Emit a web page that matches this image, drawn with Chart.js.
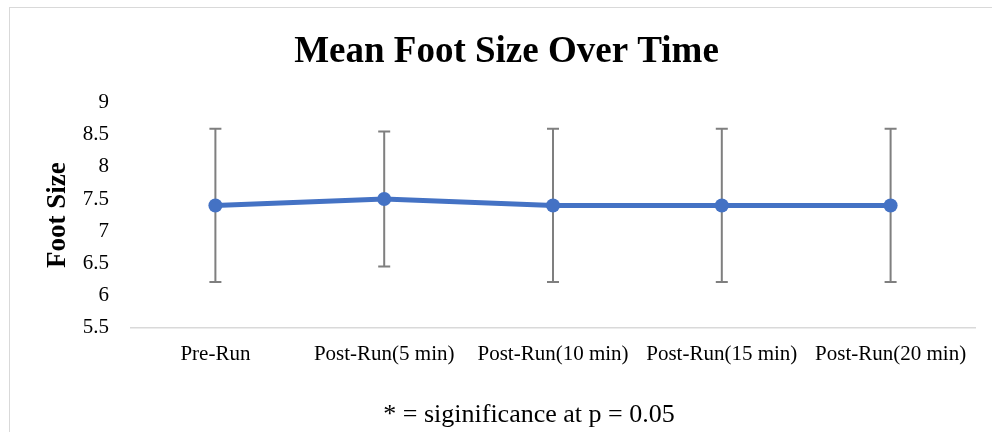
<!DOCTYPE html>
<html>
<head>
<meta charset="utf-8">
<script src="https://cdn.jsdelivr.net/npm/chart.js@4.4.1/dist/chart.umd.min.js"></script>
<style>
  html, body { margin: 0; padding: 0; background: #fff; }
  #wrap { position: relative; width: 992px; height: 432px; overflow: hidden; }
  #frame { position: absolute; left: 9px; top: 7px; width: 1000px; height: 460px; border: 1px solid #d9d9d9; box-sizing: border-box; }
  canvas { position: absolute; left: 0; top: 0; }
</style>
</head>
<body>
<div id="wrap">
  <div id="frame"></div>
  <canvas id="chart" width="992" height="432"></canvas>
</div>
<script>
// Measurement points and mean foot size with standard deviation
const timepoints = ['Pre-Run', 'Post-Run(5 min)', 'Post-Run(10 min)', 'Post-Run(15 min)', 'Post-Run(20 min)'];
const meanFootSize = [7.4, 7.5, 7.4, 7.4, 7.4];
const stdDev = [1.19, 1.05, 1.19, 1.19, 1.19];
const yTicks = [5.5, 6, 6.5, 7, 7.5, 8, 8.5, 9];
const footnote = '* = siginificance at p = 0.05';

const SERIF = "'Liberation Serif', 'Times New Roman', Times, serif";

// Vertical error bars with caps, drawn underneath the line
const errorBars = {
  id: 'errorBars',
  beforeDatasetsDraw(chart) {
    const { ctx, scales: { x, y } } = chart;
    ctx.save();
    ctx.strokeStyle = '#7f7f7f';
    ctx.lineWidth = 2;
    meanFootSize.forEach((m, i) => {
      const px = x.getPixelForValue(i);
      const top = y.getPixelForValue(m + stdDev[i]);
      const bot = y.getPixelForValue(m - stdDev[i]);
      ctx.beginPath();
      ctx.moveTo(px, top); ctx.lineTo(px, bot);
      ctx.moveTo(px - 6, top); ctx.lineTo(px + 6, top);
      ctx.moveTo(px - 6, bot); ctx.lineTo(px + 6, bot);
      ctx.stroke();
    });
    ctx.restore();
  }
};

// Significance note under the axis labels
const noteText = {
  id: 'noteText',
  afterDraw(chart) {
    const { ctx, chartArea } = chart;
    ctx.save();
    ctx.font = '26px ' + SERIF;
    ctx.fillStyle = '#000';
    ctx.textAlign = 'center';
    ctx.textBaseline = 'middle';
    ctx.fillText(footnote, (chartArea.left + chartArea.right) / 2 - 24, 415);
    ctx.restore();
  }
};

new Chart(document.getElementById('chart'), {
  type: 'line',
  data: {
    labels: timepoints,
    datasets: [{
      data: meanFootSize,
      borderColor: '#4472c4',
      backgroundColor: '#4472c4',
      borderWidth: 5,
      pointRadius: 7,
      pointHoverRadius: 7,
      pointBorderWidth: 0,
      tension: 0
    }]
  },
  options: {
    responsive: false,
    animation: false,
    layout: { padding: { left: 38, right: 17, top: 0, bottom: 51 } },
    plugins: {
      legend: { display: false },
      tooltip: { enabled: false },
      title: {
        display: true,
        text: 'Mean Foot Size Over Time',
        color: '#000',
        font: { family: SERIF, size: 37, weight: 'bold' },
        padding: { top: 30, bottom: 28 }
      }
    },
    scales: {
      x: {
        offset: true,
        grid: { display: false, drawTicks: false },
        border: { display: true, color: '#d9d9d9', width: 1.5 },
        ticks: {
          color: '#000',
          font: { family: SERIF, size: 21 },
          padding: 14,
          maxRotation: 0,
          autoSkip: false
        }
      },
      y: {
        min: 5.5,
        max: 9,
        afterBuildTicks(scale) { scale.ticks = yTicks.map(v => ({ value: v })); },
        afterFit(scale) { scale.width = 93; },
        grid: { display: false, drawTicks: false },
        border: { display: false },
        ticks: {
          color: '#000',
          font: { family: SERIF, size: 21 },
          padding: 22,
          callback: v => String(v)
        },
        title: {
          display: true,
          text: 'Foot Size',
          color: '#000',
          font: { family: SERIF, size: 27, weight: 'bold' },
          padding: { top: 4, bottom: 4 }
        }
      }
    }
  },
  plugins: [errorBars, noteText]
});
</script>
</body>
</html>
